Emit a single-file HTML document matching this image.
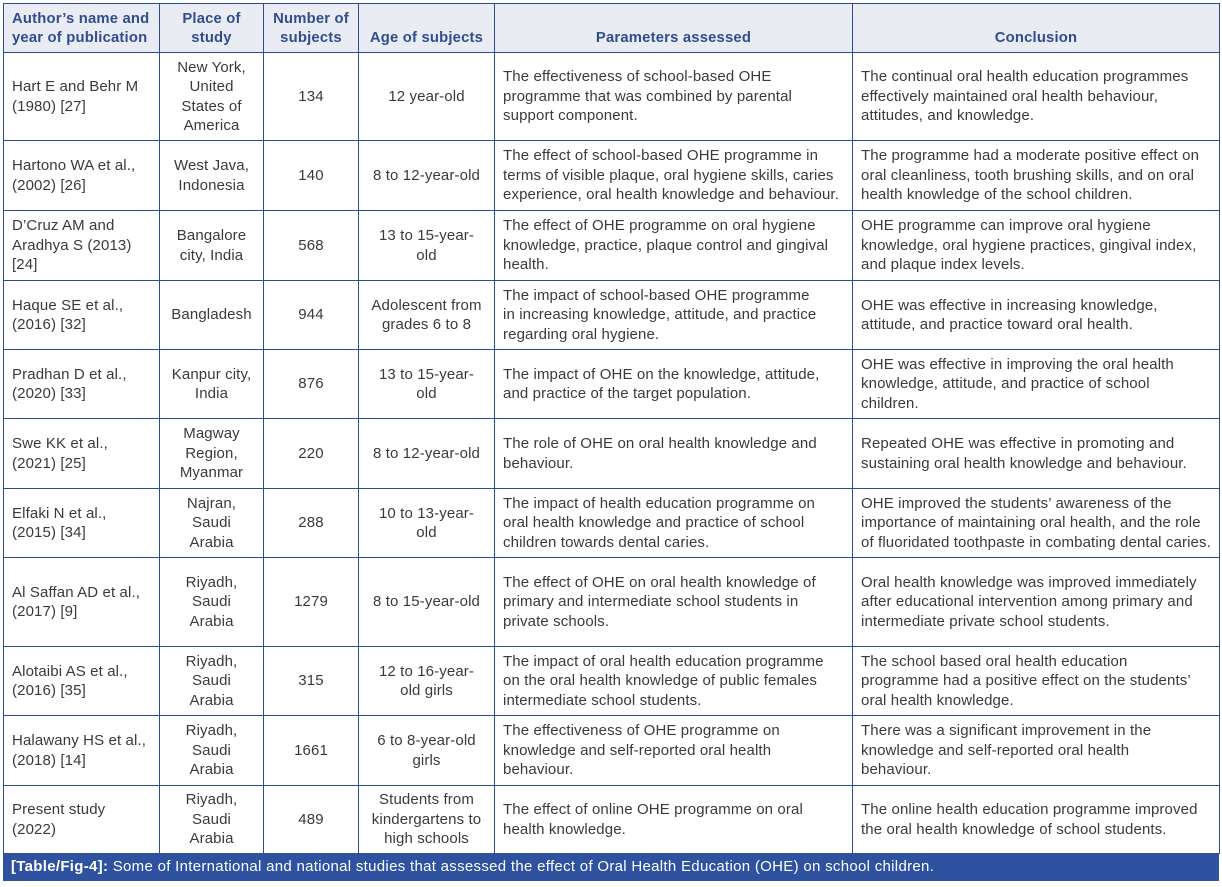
<!DOCTYPE html>
<html><head><meta charset="utf-8"><style>
body{margin:0;background:#fff;width:1222px;height:887px;overflow:hidden;font-family:"Liberation Sans",Arial,sans-serif;}
table{position:absolute;left:3px;top:3px;border-collapse:collapse;table-layout:fixed;width:1216px;}
td,th{border:1px solid #2c4c98;font-size:15px;line-height:19.4px;color:#3a3a3a;padding:0 8px;overflow:hidden;white-space:nowrap;letter-spacing:0.12px;}
th{background:#e9ecf3;color:#2f4d8f;font-weight:bold;font-size:14.8px;line-height:19px;vertical-align:bottom;padding-bottom:4px;letter-spacing:0.2px;}
td.c{text-align:center;padding:0 2px;}
.cap{position:absolute;left:3px;top:853px;width:1216px;height:28px;background:#2e52a0;color:#fff;font-size:15px;line-height:28px;padding-left:8px;box-sizing:border-box;letter-spacing:0.3px;white-space:nowrap;}
</style></head><body>
<table>
<colgroup><col style="width:156px"><col style="width:104px"><col style="width:95px"><col style="width:136px"><col style="width:358px"><col style="width:367px"></colgroup>
<tr style="height:49px"><th style="text-align:left">Author’s name and<br>year of publication</th><th>Place of<br>study</th><th>Number of<br>subjects</th><th>Age of subjects</th><th>Parameters assessed</th><th>Conclusion</th></tr>
<tr style="height:88px"><td>Hart E and Behr M<br>(1980) [27]</td><td class="c">New York,<br>United<br>States of<br>America</td><td class="c">134</td><td class="c">12 year-old</td><td>The effectiveness of school-based OHE<br>programme that was combined by parental<br>support component.</td><td>The continual oral health education programmes<br>effectively maintained oral health behaviour,<br>attitudes, and knowledge.</td></tr>
<tr style="height:70px"><td>Hartono WA et al.,<br>(2002) [26]</td><td class="c">West Java,<br>Indonesia</td><td class="c">140</td><td class="c">8 to 12-year-old</td><td>The effect of school-based OHE programme in<br>terms of visible plaque, oral hygiene skills, caries<br>experience, oral health knowledge and behaviour.</td><td>The programme had a moderate positive effect on<br>oral cleanliness, tooth brushing skills, and on oral<br>health knowledge of the school children.</td></tr>
<tr style="height:70px"><td>D’Cruz AM and<br>Aradhya S (2013)<br>[24]</td><td class="c">Bangalore<br>city, India</td><td class="c">568</td><td class="c">13 to 15-year-<br>old</td><td>The effect of OHE programme on oral hygiene<br>knowledge, practice, plaque control and gingival<br>health.</td><td>OHE programme can improve oral hygiene<br>knowledge, oral hygiene practices, gingival index,<br>and plaque index levels.</td></tr>
<tr style="height:69px"><td>Haque SE et al.,<br>(2016) [32]</td><td class="c">Bangladesh</td><td class="c">944</td><td class="c">Adolescent from<br>grades 6 to 8</td><td>The impact of school-based OHE programme<br>in increasing knowledge, attitude, and practice<br>regarding oral hygiene.</td><td>OHE was effective in increasing knowledge,<br>attitude, and practice toward oral health.</td></tr>
<tr style="height:69px"><td>Pradhan D et al.,<br>(2020) [33]</td><td class="c">Kanpur city,<br>India</td><td class="c">876</td><td class="c">13 to 15-year-<br>old</td><td>The impact of OHE on the knowledge, attitude,<br>and practice of the target population.</td><td>OHE was effective in improving the oral health<br>knowledge, attitude, and practice of school<br>children.</td></tr>
<tr style="height:70px"><td>Swe KK et al.,<br>(2021) [25]</td><td class="c">Magway<br>Region,<br>Myanmar</td><td class="c">220</td><td class="c">8 to 12-year-old</td><td>The role of OHE on oral health knowledge and<br>behaviour.</td><td>Repeated OHE was effective in promoting and<br>sustaining oral health knowledge and behaviour.</td></tr>
<tr style="height:69px"><td>Elfaki N et al.,<br>(2015) [34]</td><td class="c">Najran,<br>Saudi<br>Arabia</td><td class="c">288</td><td class="c">10 to 13-year-<br>old</td><td>The impact of health education programme on<br>oral health knowledge and practice of school<br>children towards dental caries.</td><td>OHE improved the students’ awareness of the<br>importance of maintaining oral health, and the role<br>of fluoridated toothpaste in combating dental caries.</td></tr>
<tr style="height:89px"><td>Al Saffan AD et al.,<br>(2017) [9]</td><td class="c">Riyadh,<br>Saudi<br>Arabia</td><td class="c">1279</td><td class="c">8 to 15-year-old</td><td>The effect of OHE on oral health knowledge of<br>primary and intermediate school students in<br>private schools.</td><td>Oral health knowledge was improved immediately<br>after educational intervention among primary and<br>intermediate private school students.</td></tr>
<tr style="height:69px"><td>Alotaibi AS et al.,<br>(2016) [35]</td><td class="c">Riyadh,<br>Saudi<br>Arabia</td><td class="c">315</td><td class="c">12 to 16-year-<br>old girls</td><td>The impact of oral health education programme<br>on the oral health knowledge of public females<br>intermediate school students.</td><td>The school based oral health education<br>programme had a positive effect on the students’<br>oral health knowledge.</td></tr>
<tr style="height:70px"><td>Halawany HS et al.,<br>(2018) [14]</td><td class="c">Riyadh,<br>Saudi<br>Arabia</td><td class="c">1661</td><td class="c">6 to 8-year-old<br>girls</td><td>The effectiveness of OHE programme on<br>knowledge and self-reported oral health<br>behaviour.</td><td>There was a significant improvement in the<br>knowledge and self-reported oral health<br>behaviour.</td></tr>
<tr style="height:68px"><td>Present study<br>(2022)</td><td class="c">Riyadh,<br>Saudi<br>Arabia</td><td class="c">489</td><td class="c">Students from<br>kindergartens to<br>high schools</td><td>The effect of online OHE programme on oral<br>health knowledge.</td><td>The online health education programme improved<br>the oral health knowledge of school students.</td></tr>
</table>
<div class="cap"><b>[Table/Fig-4]:</b> Some of International and national studies that assessed the effect of Oral Health Education (OHE) on school children.</div>
</body></html>
